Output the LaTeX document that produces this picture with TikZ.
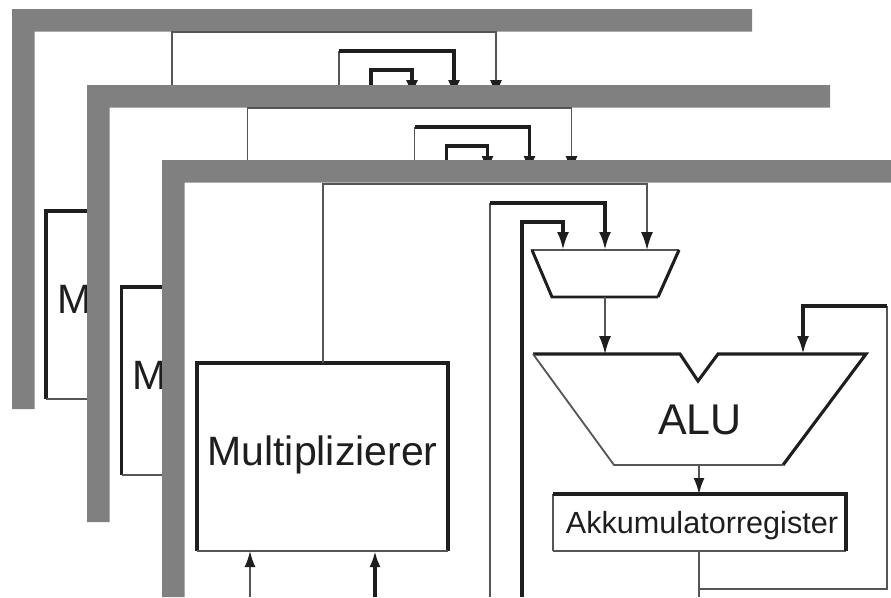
\documentclass[tikz,border=0pt]{standalone}
\usepackage{fontspec}
\setmainfont{Liberation Sans}
\usetikzlibrary{arrows.meta}
\definecolor{frameg}{HTML}{808080}
\definecolor{ink}{HTML}{1E1E1E}
\definecolor{wireg}{HTML}{555555}
\tikzset{
  thinw/.style={draw=wireg,line width=1.8pt},
  medw/.style={draw=ink,line width=2.95pt},
  boldw/.style={draw=ink,line width=3.1pt},
  arr/.style={-{Latex[length=18pt,width=12pt,color=ink]}},
  arrs/.style={-{Latex[length=16pt,width=11pt,color=ink]}},
  boxn/.style={inner sep=0pt,outer sep=0pt,minimum width=251pt,minimum height=188pt,text=ink,font=\fontsize{41}{43}\selectfont,text height=20pt,text depth=4pt},
  leftm/.style={inner sep=0pt,outer sep=0pt,anchor=base west,text=ink,font=\fontsize{41}{43}\selectfont},
  framep/.style={fill=frameg,draw=none},
}
\newcommand{\layerwires}[1]{%
  \coordinate (#1ina) at (563,250);
  \coordinate (#1inb) at (605,250);
  \coordinate (#1inc) at (647,250);
  \coordinate (#1ca) at (522,222);
  \coordinate (#1cb) at (490,203);
  \coordinate (#1cc) at (323,184);
  \draw[thinw,arr] (#1.north -| #1cc) -- (#1cc) -| (#1inc);
  \draw[thinw] (#1cb |- 0,597) -- (#1cb);
  \draw[boldw,arr] (#1cb) -| (#1inb);
  \draw[boldw,arr] (#1ca |- 0,597) -- (#1ca) -| (#1ina);
}
\newcommand{\layerframe}[4]{% left top right bottom
  \fill[white] (#1,#2) rectangle (891,597);
  \fill[framep] (#1,#2) -- (#3,#2) -- (#3,#2+22.5) -- (#1+22.5,#2+22.5) -- (#1+22.5,#4) -- (#1,#4) -- cycle;
}
\begin{document}
\begin{tikzpicture}[x=1pt,y=-1pt]
\useasboundingbox (0,0) rectangle (891,597);
\clip (0,0) rectangle (891,597);
\fill[white] (0,0) rectangle (891,597);
% back layer one
\layerframe{12}{9}{752}{409}
\begin{scope}[shift={(-151,-152)}]
  \node[boxn,anchor=north west] (ab) at (197,363) {};
  \draw[boldw] (ab.south west) -- (ab.north west) -- (ab.north east);
  \draw[thinw] (ab.south west) -- (ab.south east);
  \node[leftm] (am) at (208,465) {M};
  \layerwires{ab}
\end{scope}
% back layer two
\layerframe{87}{85}{830}{522}
\begin{scope}[shift={(-75.5,-76)}]
  \node[boxn,anchor=north west] (bb) at (197,363) {};
  \draw[boldw] (bb.south west) -- (bb.north west) -- (bb.north east);
  \draw[thinw] (bb.south west) -- (bb.south east);
  \node[leftm] (bm) at (208,465) {M};
  \layerwires{bb}
\end{scope}
% front layer
\layerframe{162}{160}{891}{597}
\node[boxn,anchor=north west] (cb) at (197,363) {Multiplizierer};
\draw[boldw] (cb.south west) -- (cb.north west) -- (cb.north east) -- (cb.south east);
\draw[thinw] (cb.south west) -- (cb.south east);
\layerwires{cb}
% multiplexer
\coordinate (muxb) at (605,297);
\draw[thinw,line join=miter] (552,297) -- (532,250) -- (679,250);
\draw[medw] (532,250) -- (552,297) -- (658,297);
\draw[boldw] (679,250) -- (658,297);
% ALU
\coordinate (alua) at (605,354);
\coordinate (alub) at (803,354);
\coordinate (aluo) at (699,465);
\draw[boldw,line join=miter] (533,354) -- (680,354) -- (698,381) -- (718,354) -- (866,354) -- (783,465);
\draw[thinw,line join=miter] (783,465) -- (614,465) -- (533,354);
\node[inner sep=0pt,outer sep=0pt,anchor=base,text=ink,font=\fontsize{43}{45}\selectfont] (alut) at (700,434) {ALU};
\draw[thinw,arr] (muxb) -- (alua);
% accumulator
\node[inner sep=0pt,outer sep=0pt,anchor=north west,minimum width=293pt,minimum height=57pt,text=ink,font=\fontsize{30.6}{32}\selectfont,text height=24pt,text depth=3pt] (akk) at (553,494) {\hspace*{5pt}Akkumulatorregister};
\draw[thinw] (akk.south west) -- (akk.north west);
\draw[thinw] (akk.south west) -- (akk.south east);
\draw[boldw] (akk.north west) -- (akk.north east) -- (akk.south east);
\draw[thinw,arrs] (aluo) -- (aluo |- akk.north);
% feedback
\coordinate (fb) at (699,589);
\coordinate (fbr) at (887,589);
\coordinate (fbt) at (887,306);
\coordinate (fbl) at (803,306);
\draw[thinw] (aluo |- akk.south) -- (aluo |- 0,597);
\draw[thinw] (fb) -- (fbr) -- (fbt);
\draw[boldw,arr] (fbt) -- (fbl) -- (alub);
% multiplier inputs
\coordinate (ia) at (250,597);
\coordinate (ib) at (375,597);
\draw[thinw,arrs] (ia) -- (ia |- cb.south);
\draw[boldw,arrs] (ib) -- (ib |- cb.south);
\end{tikzpicture}
\end{document}
